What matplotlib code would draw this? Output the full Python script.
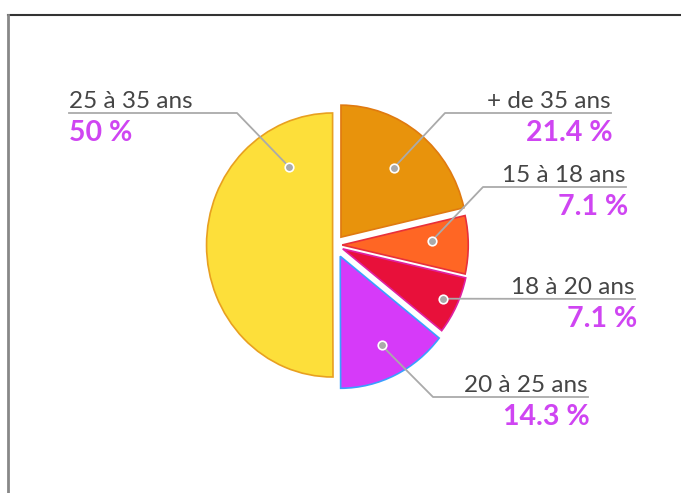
import numpy as np
import matplotlib.pyplot as plt

labels = ["+ de 35 ans", "15 à 18 ans", "18 à 20 ans", "20 à 25 ans", "25 à 35 ans"]
shares = [21.4, 7.1, 7.1, 14.3, 50.0]
pct_text = ["21.4 %", "7.1 %", "7.1 %", "14.3 %", "50 %"]

colors = ["#E8930C", "#FF6624", "#E8103A", "#D63AF9", "#FDDF3A"]
edges = ["#E07A10", "#E8303A", "#E020A0", "#3AA0FF", "#E8A020"]
explode_frac = [0.076, 0.057, 0.068, 0.095, 0.019]

W, H = 681, 493
SX = 0.955  # pie is slightly squashed horizontally in the original
fig = plt.figure(figsize=(W / 100, H / 100), dpi=100)
ax = fig.add_axes([0, 0, 1, 1])


def X(px):
    return px / SX


cx, cy, R = X(335), H - 245, 132
# pie explode is in data units, so scale by the radius
wedges, _ = ax.pie(shares, colors=colors, explode=[e * R for e in explode_frac],
                   startangle=90, counterclock=False, center=(cx, cy), radius=R,
                   wedgeprops=dict(linewidth=1.2), frame=True)
for w, ec in zip(wedges, edges):
    w.set_edgecolor(ec)
ax.set_xlim(0, X(W))
ax.set_ylim(0, H)
ax.set_aspect("auto")
ax.axis("off")

# frame lines (top and left)
ax.plot([X(8), X(W)], [H - 15, H - 15], color="#333333", lw=1.5, zorder=5)
ax.plot([X(8), X(8)], [H - 15, 0], color="#888888", lw=2, zorder=5)

# label layout: dot radius fraction, optional dot angle, text line y, line end x, elbow x
dot_r = [0.671, 0.71, 0.877, 0.75, 0.687]
dot_ang = [None, 2.4, None, None, 120.3]
text_y = [113, 187, 299, 397, 113]
line_end = [611, 626, 635, 588, 69]
elbow = [445, 483, None, 433, 237]
side = ["right", "right", "right", "right", "left"]

name_font = dict(family=["Lato", "DejaVu Sans"], weight="normal", color="#454545", fontsize=17.5)
pct_font = dict(family=["Lato", "DejaVu Sans"], weight="bold", color="#CF45F2", fontsize=20.5)

for i, w in enumerate(wedges):
    th = np.deg2rad((w.theta1 + w.theta2) / 2 if dot_ang[i] is None else dot_ang[i])
    wc = w.center
    dx = wc[0] + dot_r[i] * R * np.cos(th)
    dy = wc[1] + dot_r[i] * R * np.sin(th)
    ly = H - text_y[i]
    if elbow[i] is None:
        xs, ys = [dx, X(line_end[i])], [dy, ly]
    else:
        xs, ys = [dx, X(elbow[i]), X(line_end[i])], [dy, ly, ly]
    ax.plot(xs, ys, color="#AAAAAA", lw=1.3, zorder=6)
    ax.scatter([dx], [dy], s=38, color="#AAAAAA", edgecolor="white", lw=1.2, zorder=7)
    ha = side[i]
    ax.text(X(line_end[i]), ly + 5, labels[i], ha=ha, va="baseline", zorder=8, **name_font)
    ax.text(X(line_end[i] + (2 if ha == "right" else 0)), ly - 28, pct_text[i], ha=ha,
            va="baseline", zorder=8, **pct_font)

fig.savefig("out.png", dpi=100)
